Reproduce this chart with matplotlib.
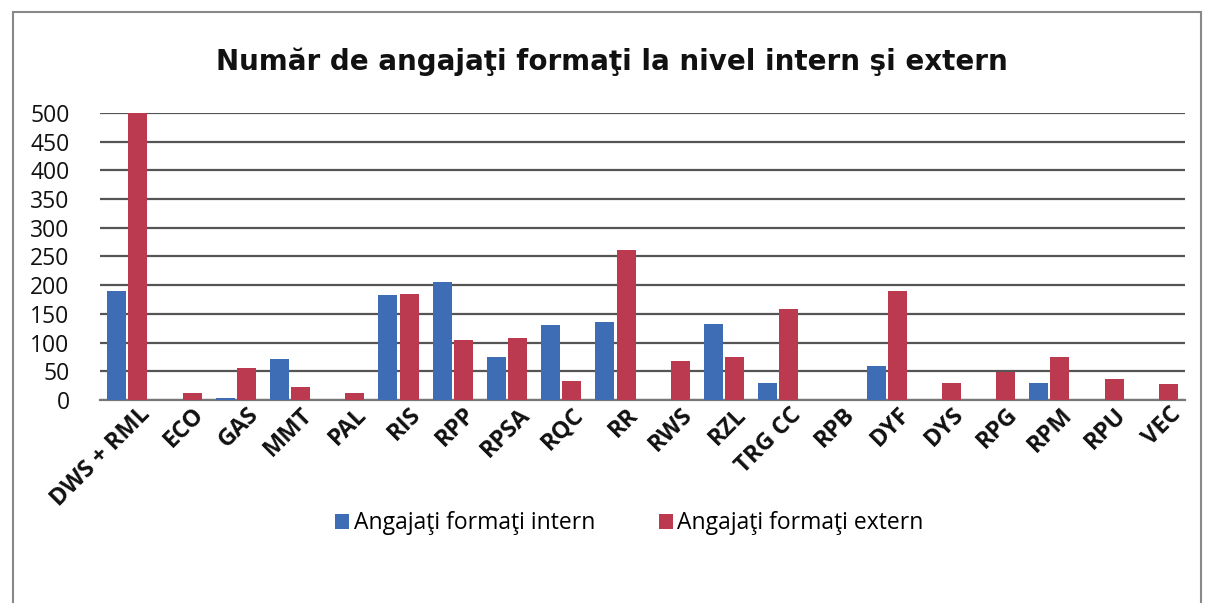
import numpy as np
import matplotlib
matplotlib.use("Agg")
import matplotlib.pyplot as plt
from matplotlib.patches import Rectangle

categories = ["DWS + RML", "ECO", "GAS", "MMT", "PAL", "RIS", "RPP", "RPSA", "RQC", "RR",
              "RWS", "RZL", "TRG CC", "RPB", "DYF", "DYS", "RPG", "RPM", "RPU", "VEC"]
intern = [190, 0, 3, 72, 0, 183, 205, 75, 130, 135, 0, 132, 30, 0, 60, 0, 0, 30, 0, 0]
extern = [500, 12, 55, 22, 12, 185, 105, 108, 33, 262, 68, 75, 158, 0, 190, 30, 48, 75, 37, 27]
yticks = [0, 50, 100, 150, 200, 250, 300, 350, 400, 450, 500]

title = "Număr de angajaţi formaţi la nivel intern şi extern"
label_in = "Angajaţi formaţi intern"
label_ex = "Angajaţi formaţi extern"

blue = "#3f6db5"
red = "#bb3a50"

plt.rcParams['font.family'] = ['Open Sans', 'DejaVu Sans']

fig = plt.figure(figsize=(12.06, 6.03), dpi=100)
ax = fig.add_axes([0.083, 0.3367, 0.9826 - 0.083, 0.8126 - 0.3367])

x = np.arange(len(categories))
w = 0.35
ax.bar(x - w / 2 - 0.02, intern, width=w, color=blue, label=label_in, zorder=3)
ax.bar(x + w / 2 + 0.02, extern, width=w, color=red, label=label_ex, zorder=3)

ax.set_xlim(-0.5, len(categories) - 0.5)
ax.set_ylim(0, 500)
ax.set_yticks(yticks)
ax.yaxis.grid(True, color="#555555", linewidth=1.6, zorder=0)
ax.set_axisbelow(True)
for s in ["top", "right", "left"]:
    ax.spines[s].set_visible(False)
ax.spines["bottom"].set_color("#777777")
ax.spines["bottom"].set_linewidth(1.6)
ax.tick_params(axis="y", length=0, pad=22, labelsize=16.5, labelcolor="#111111")
ax.tick_params(axis="x", length=0, pad=2)
ax.set_xticks(x + 0.2)
ax.set_xticklabels(categories, rotation=45, ha="right", rotation_mode="anchor",
                   fontsize=17, fontweight="bold", color="#111111")

fig.text(0.507, 0.897, title, ha="center", va="center", fontsize=20,
         fontweight="bold", family="DejaVu Sans", color="#111111")

ax.legend(loc="center", bbox_to_anchor=(0.522, 0.132), bbox_transform=fig.transFigure,
          ncol=2, frameon=False, fontsize=16.5, handlelength=0.6, handleheight=0.6,
          handletextpad=0.2, columnspacing=2.8)

fig.patches.append(Rectangle((0.011, -0.02), 0.985, 1.0, transform=fig.transFigure,
                             fill=False, edgecolor="#888888", linewidth=1.5))

fig.savefig("out.png", dpi=100)
